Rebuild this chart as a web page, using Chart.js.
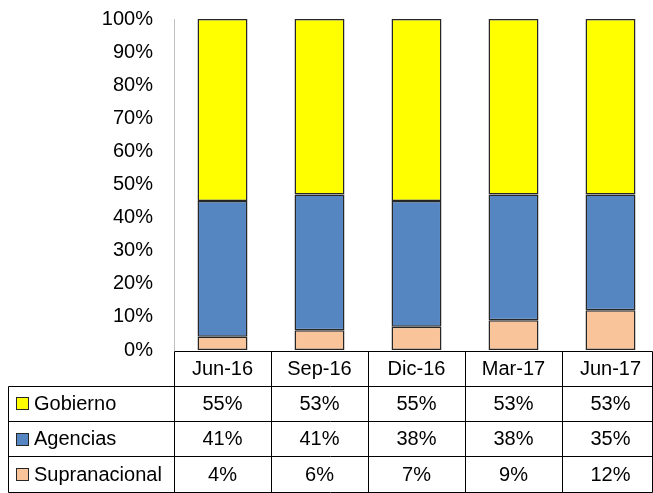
<!DOCTYPE html>
<html>
<head>
<meta charset="utf-8">
<script src="https://cdn.jsdelivr.net/npm/chart.js@4/dist/chart.umd.min.js"></script>
<style>
  html, body { margin: 0; padding: 0; background: #fff; overflow: hidden; }
  #wrap { width: 653px; height: 493px; overflow: hidden; position: relative; }
</style>
</head>
<body>
<div id="wrap"><canvas id="myChart" width="660" height="493"></canvas></div>
<script>
// Datos
const categories = ["Jun-16", "Sep-16", "Dic-16", "Mar-17", "Jun-17"];
const gobierno = [55, 53, 55, 53, 53];
const agencias = [41, 41, 38, 38, 35];
const supranacional = [4, 6, 7, 9, 12];
const yTicks = [0, 10, 20, 30, 40, 50, 60, 70, 80, 90, 100];

const FONT = "Liberation Sans, Arial, sans-serif";
const colores = { gobierno: "#ffff00", agencias: "#5686c2", supra: "#f9c49a" };

// filas de la tabla (orden de arriba a abajo)
const filas = [
  { label: "Gobierno", data: gobierno, color: colores.gobierno },
  { label: "Agencias", data: agencias, color: colores.agencias },
  { label: "Supranacional", data: supranacional, color: colores.supra }
];

// tabla de datos debajo del eje x
const tablaPlugin = {
  id: "tabla",
  afterDraw(chart) {
    const ctx = chart.ctx;
    const x = chart.scales.x;
    const area = chart.chartArea;
    const top = Math.round(area.bottom) + 0.5;
    const rowH = 35.3;
    const rightEdge = 652.5;
    const leftEdge = 8.5;
    const rowsY = [top, top + rowH, top + rowH * 2, top + rowH * 3, top + rowH * 4];
    const bounds = [];
    bounds.push(Math.round(area.left) + 0.5);
    for (let i = 1; i < categories.length; i++) {
      bounds.push(Math.round((x.getPixelForValue(i) + x.getPixelForValue(i - 1)) / 2) + 0.5);
    }
    bounds.push(rightEdge);

    ctx.save();
    ctx.strokeStyle = "#000";
    ctx.lineWidth = 1;
    ctx.beginPath();
    // lineas horizontales
    ctx.moveTo(bounds[0], Math.round(rowsY[0]) + 0.5);
    ctx.lineTo(rightEdge, Math.round(rowsY[0]) + 0.5);
    for (let r = 1; r < rowsY.length; r++) {
      const yy = Math.round(rowsY[r]) + 0.5;
      ctx.moveTo(leftEdge, yy);
      ctx.lineTo(rightEdge, yy);
    }
    // lineas verticales
    const yEnd = Math.round(rowsY[4]) + 0.5;
    bounds.forEach(b => {
      ctx.moveTo(b, Math.round(rowsY[0]) + 0.5);
      ctx.lineTo(b, yEnd);
    });
    ctx.moveTo(leftEdge, Math.round(rowsY[1]) + 0.5);
    ctx.lineTo(leftEdge, yEnd);
    ctx.stroke();

    ctx.fillStyle = "#000";
    ctx.font = "20px " + FONT;
    ctx.textAlign = "center";
    ctx.textBaseline = "middle";
    categories.forEach((c, i) => {
      ctx.fillText(c, x.getPixelForValue(i), (rowsY[0] + rowsY[1]) / 2 + 1);
    });

    filas.forEach((f, r) => {
      const cy = (rowsY[r + 1] + rowsY[r + 2]) / 2 + 1;
      // cuadro de leyenda
      ctx.fillStyle = f.color;
      ctx.fillRect(16.5, Math.round(cy) - 6.5, 12, 12);
      ctx.strokeStyle = "#262626";
      ctx.strokeRect(16.5, Math.round(cy) - 6.5, 12, 12);
      ctx.fillStyle = "#000";
      ctx.textAlign = "left";
      ctx.fillText(f.label, 34, cy);
      ctx.textAlign = "center";
      f.data.forEach((v, i) => {
        ctx.fillText(v + "%", x.getPixelForValue(i), cy);
      });
    });
    ctx.restore();
  }
};

const ctx = document.getElementById("myChart").getContext("2d");
const myChart = new Chart(ctx, {
  type: "bar",
  data: {
    labels: categories,
    datasets: [
      { label: "Supranacional", data: supranacional, backgroundColor: colores.supra },
      { label: "Agencias", data: agencias, backgroundColor: colores.agencias },
      { label: "Gobierno", data: gobierno, backgroundColor: colores.gobierno }
    ].map(d => Object.assign(d, {
      borderColor: "#262626",
      borderWidth: 1.5,
      borderSkipped: false,
      barPercentage: 0.515,
      categoryPercentage: 1
    }))
  },
  options: {
    responsive: false,
    animation: false,
    layout: { padding: { top: 19, right: 1, bottom: 143, left: 0 } },
    plugins: { legend: { display: false }, tooltip: { enabled: false } },
    scales: {
      x: { stacked: true, display: false },
      y: {
        stacked: true,
        min: 0,
        max: 100,
        afterFit(scale) {
          scale.width = 174;
          scale.paddingTop = 0;
          scale.paddingBottom = 0;
        },
        afterBuildTicks(scale) { scale.ticks = yTicks.map(v => ({ value: v })); },
        grid: { display: false },
        border: { display: true, color: "#bfbfbf", width: 1 },
        ticks: {
          padding: 13,
          color: "#000",
          font: { family: FONT, size: 20 },
          callback: v => v + "%"
        }
      }
    }
  },
  plugins: [tablaPlugin]
});
</script>
</body>
</html>
